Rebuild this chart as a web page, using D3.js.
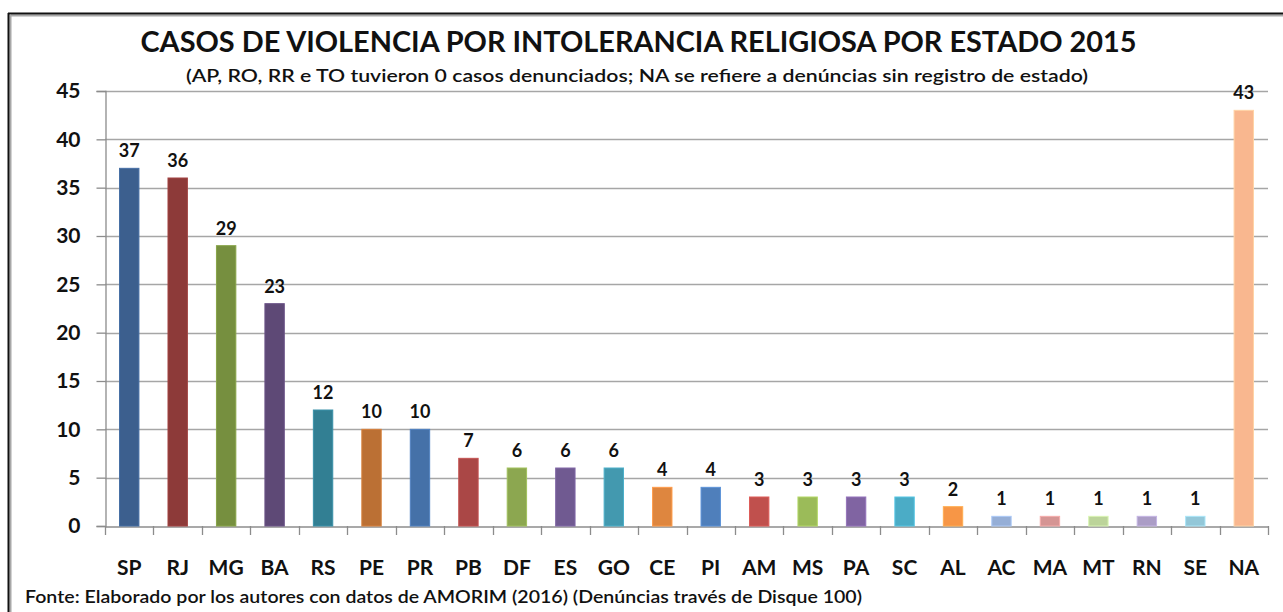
<!DOCTYPE html>
<html>
<head>
<meta charset="utf-8">
<script src="https://cdn.jsdelivr.net/npm/d3@7"></script>
<style>
html,body{margin:0;padding:0;background:#fff;}
svg{display:block;font-family:Lato,"Open Sans",sans-serif;}
</style>
</head>
<body>
<svg id="chart" width="1283" height="612"></svg>
<script>
const states = ["SP","RJ","MG","BA","RS","PE","PR","PB","DF","ES","GO","CE","PI","AM","MS","PA","SC","AL","AC","MA","MT","RN","SE","NA"];
const cases  = [37,36,29,23,12,10,10,7,6,6,6,4,4,3,3,3,3,2,1,1,1,1,1,43];
const barColors = ["#3C5F8E","#8D3A39","#768F3F","#5E4976","#327F93","#BB7034","#4571A8","#AA4746","#8CA750","#705A91","#4399AF","#DE863F","#4F7FBB","#C0504D","#9BBB59","#8064A2","#4BACC6","#F79646","#95AED6","#D59594","#BCD49A","#AB9DC6","#93C7D8","#F9B78F"];
const yTicks = [0,5,10,15,20,25,30,35,40,45];
const titleText = "CASOS DE VIOLENCIA POR INTOLERANCIA RELIGIOSA POR ESTADO 2015";
const subtitleText = "(AP, RO, RR e TO tuvieron  0 casos denunciados; NA se refiere a denúncias  sin registro de  estado)";
const footerText = "Fonte: Elaborado por  los autores con  datos de AMORIM (2016) (Denúncias través de Disque 100)";

const svg = d3.select("#chart");
const W = 1283, H = 612;
const m = {left:105, right:1268, top:91, bottom:526};

// frame
svg.append("line").attr("x1",11).attr("x2",W).attr("y1",15.5).attr("y2",15.5).attr("stroke","#a8a8a8").attr("stroke-width",2);
svg.append("line").attr("x1",10.5).attr("x2",10.5).attr("y1",15).attr("y2",H).attr("stroke","#a8a8a8").attr("stroke-width",2);
svg.append("line").attr("x1",8).attr("x2",W).attr("y1",13.5).attr("y2",13.5).attr("stroke","#111").attr("stroke-width",2);
svg.append("line").attr("x1",8.5).attr("x2",8.5).attr("y1",13).attr("y2",H).attr("stroke","#111").attr("stroke-width",2);

const x = d3.scaleBand().domain(states).range([m.left, m.right]).paddingInner(0.6).paddingOuter(0.3);
const xb = d3.scaleBand().domain(states).range([m.left, m.right]).padding(0);
const y = d3.scaleLinear().domain([0,45]).range([m.bottom, m.top]);

// grid lines
svg.append("g").selectAll("line").data(yTicks.filter(d=>d>0)).join("line")
  .attr("x1",m.left).attr("x2",m.right)
  .attr("y1",d=>Math.round(y(d))+0.5).attr("y2",d=>Math.round(y(d))+0.5)
  .attr("stroke","#a6a6a6").attr("stroke-width",1.3);

// y axis
const yAxis = svg.append("g").attr("transform",`translate(${m.left+0.5},0)`)
  .call(d3.axisLeft(y).tickValues(yTicks).tickSize(9).tickPadding(16));
yAxis.select(".domain").attr("stroke","#8c8c8c").attr("stroke-width",1.3);
yAxis.selectAll(".tick line").attr("stroke","#8c8c8c").attr("stroke-width",1.3);
yAxis.selectAll(".tick text").attr("font-size",21).attr("font-weight","bold")
  .attr("fill","#111").attr("font-family","Lato,sans-serif");

// x axis
const xAxis = svg.append("g").attr("transform",`translate(0,${Math.round(m.bottom)+0.5})`)
  .call(d3.axisBottom(xb).tickSize(0).tickPadding(34));
xAxis.select(".domain").attr("stroke","#8c8c8c").attr("stroke-width",1.3);
xAxis.selectAll(".tick text").attr("font-size",21).attr("font-weight","bold")
  .attr("fill","#111").attr("font-family","Lato,sans-serif");
// category boundary ticks
const bounds = states.map(s=>xb(s)).concat([m.right]);
svg.append("g").selectAll("line").data(bounds).join("line")
  .attr("x1",d=>Math.round(d)+0.5).attr("x2",d=>Math.round(d)+0.5)
  .attr("y1",m.bottom).attr("y2",m.bottom+9)
  .attr("stroke","#8c8c8c").attr("stroke-width",1.3);

// bars
const data = states.map((s,i)=>({s, v:cases[i], c:barColors[i]}));
svg.append("g").selectAll("rect").data(data).join("rect")
  .attr("x",d=>x(d.s)).attr("width",x.bandwidth())
  .attr("y",d=>y(d.v)).attr("height",d=>y(0)-y(d.v))
  .attr("fill",d=>d.c)
  .attr("stroke",d=>d3.color(d.c).brighter(0.4)).attr("stroke-width",1);

// value labels
svg.append("g").selectAll("text").data(data).join("text")
  .attr("x",d=>x(d.s)+x.bandwidth()/2)
  .attr("y",d=>y(d.v)-11)
  .attr("text-anchor","middle")
  .attr("font-size",18).attr("font-weight","bold").attr("fill","#111")
  .text(d=>d.v);

// titles
svg.append("text").attr("x",638.5).attr("y",52).attr("text-anchor","middle")
  .attr("font-size",29).attr("font-weight","bold").attr("fill","#111")
  .attr("textLength",996).attr("lengthAdjust","spacingAndGlyphs")
  .text(titleText);
svg.append("text").attr("x",637).attr("y",82).attr("text-anchor","middle")
  .attr("font-size",17).attr("fill","#111").attr("font-weight","600")
  .attr("textLength",902).attr("lengthAdjust","spacingAndGlyphs")
  .text(subtitleText);
svg.append("text").attr("x",25).attr("y",603)
  .attr("font-size",17).attr("fill","#111").attr("font-weight","600")
  .attr("textLength",837).attr("lengthAdjust","spacingAndGlyphs")
  .text(footerText);
</script>
</body>
</html>
